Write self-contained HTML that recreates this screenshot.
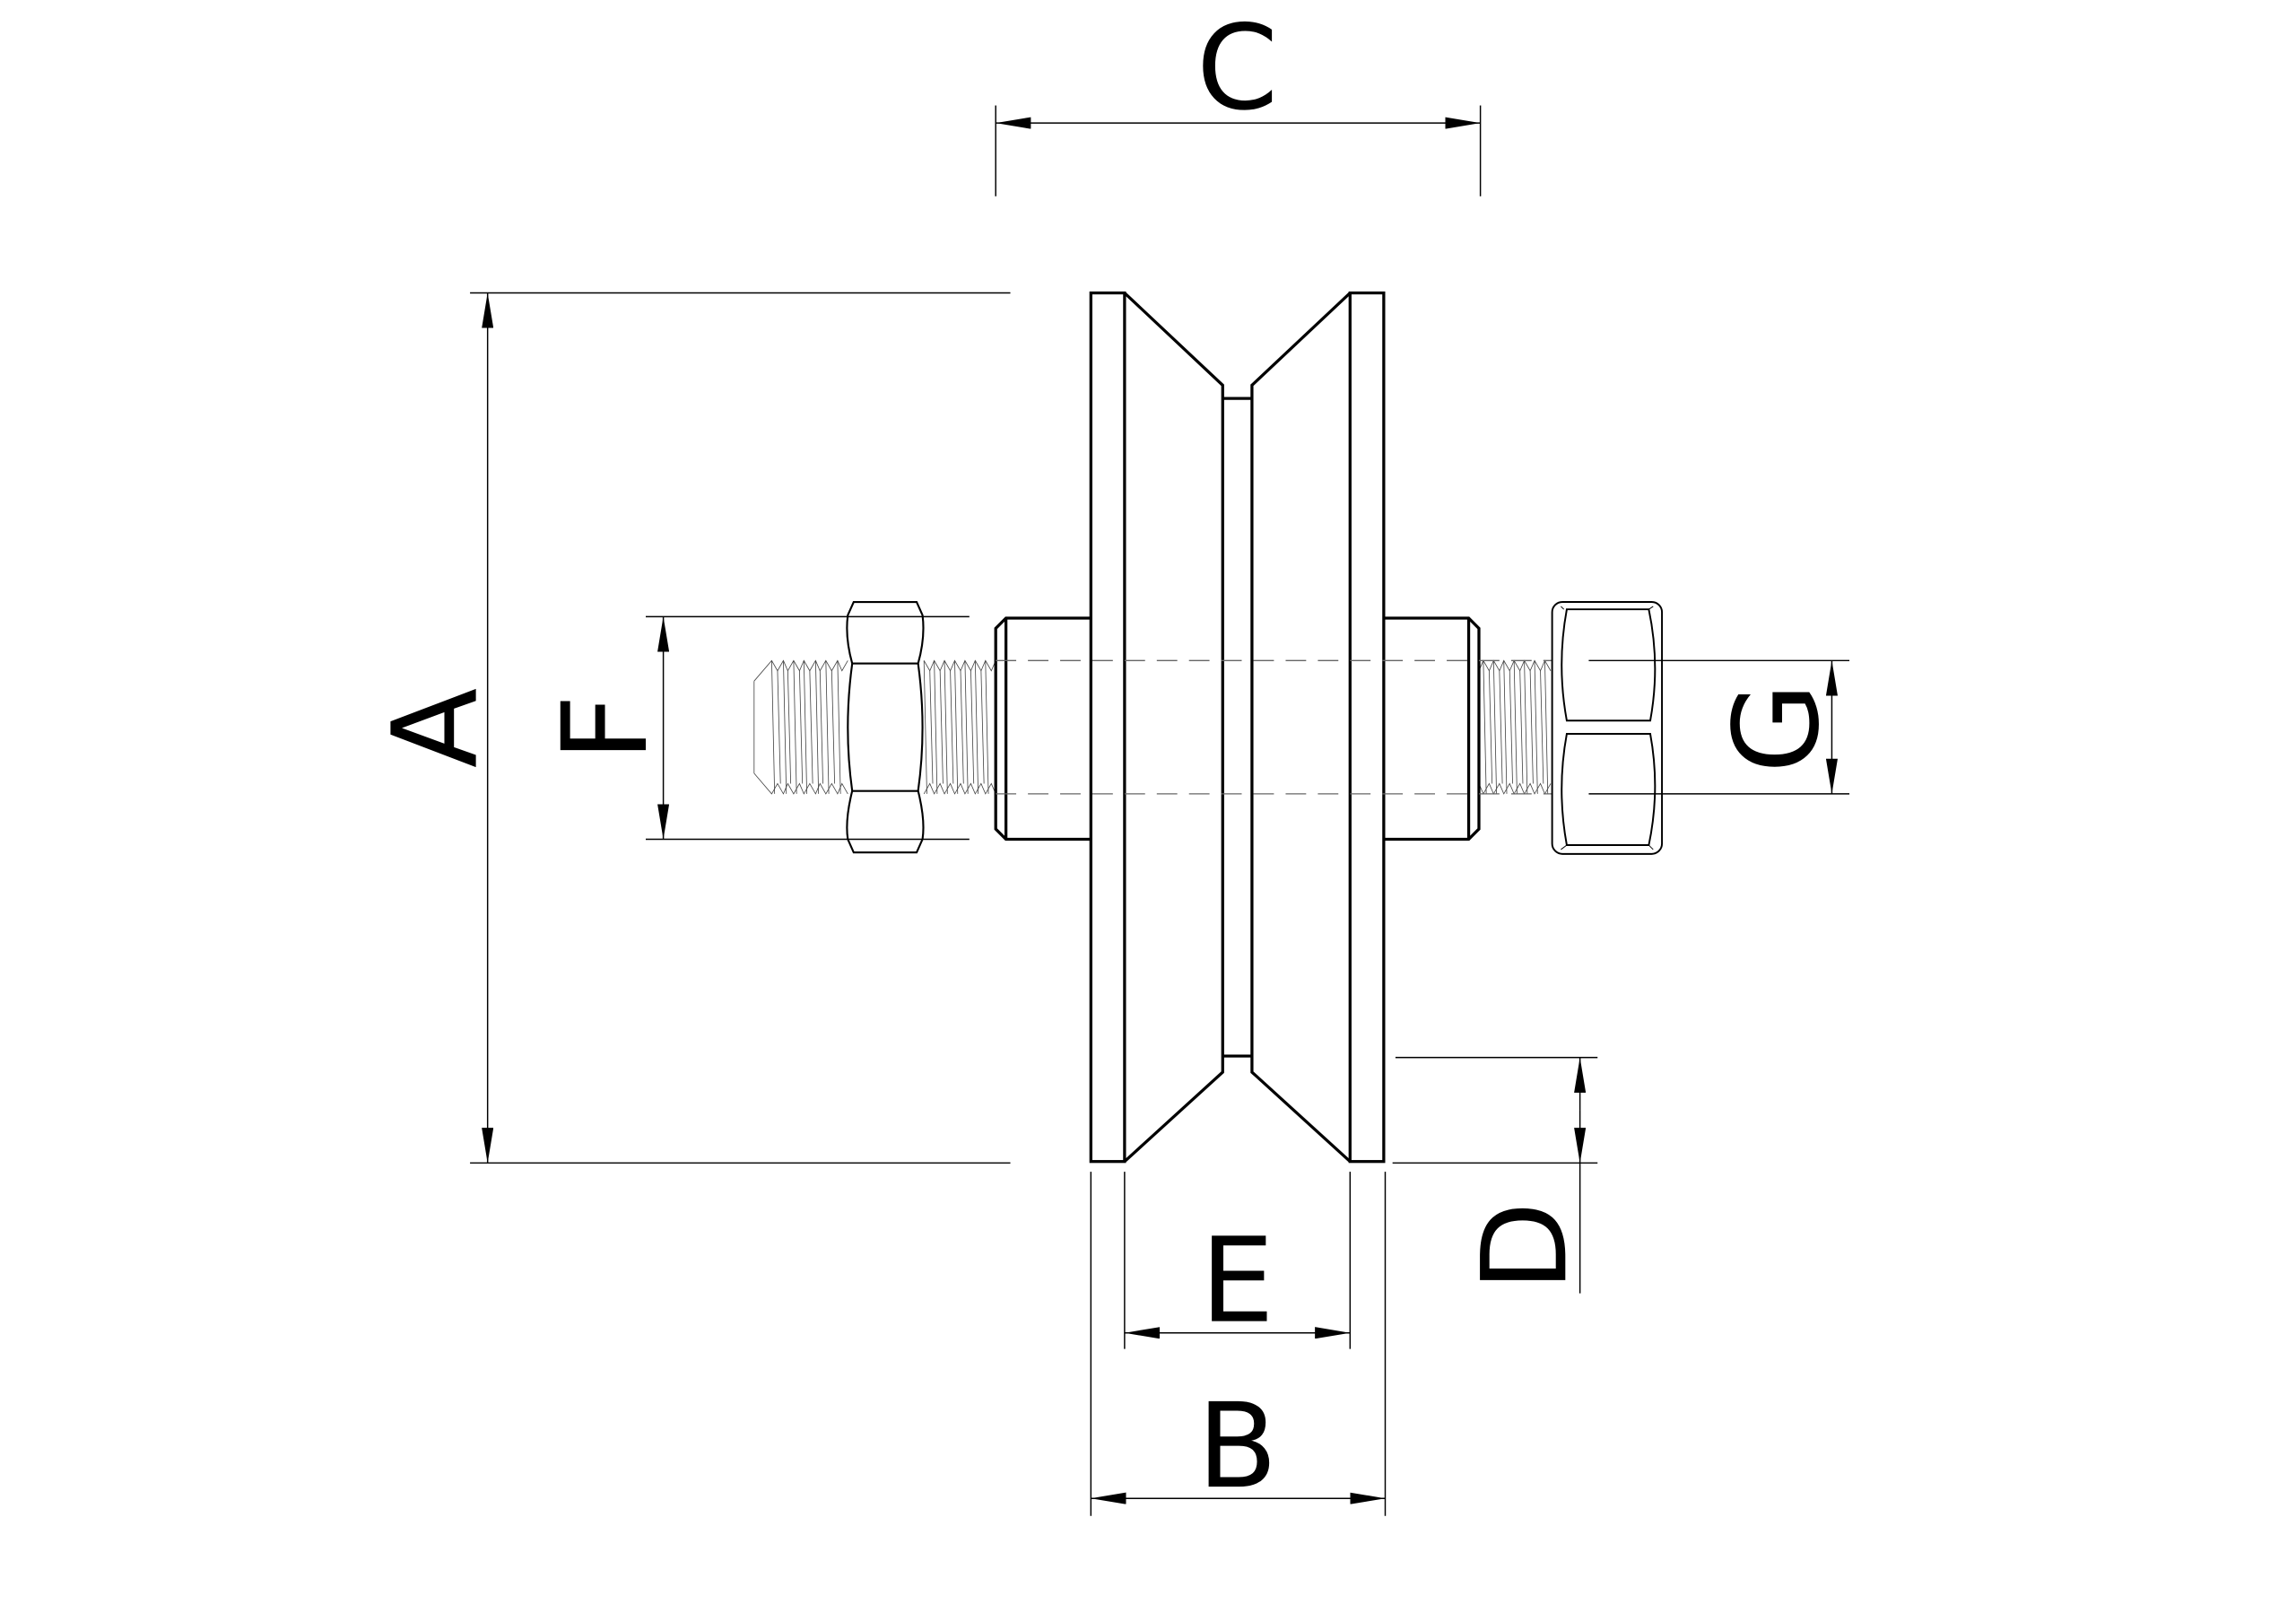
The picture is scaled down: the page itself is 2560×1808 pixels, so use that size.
<!DOCTYPE html>
<html><head><meta charset="utf-8"><style>
html,body{margin:0;padding:0;background:#fff}
svg{display:block}
text{font-family:"DejaVu Sans","Liberation Sans",sans-serif;font-size:80px;fill:#000}
</style></head><body>
<svg width="2560" height="1808" viewBox="0 0 1568 1107.4" xmlns="http://www.w3.org/2000/svg">
<defs>
<marker id="ar" viewBox="0 0 24 8" refX="24" refY="4" markerWidth="24" markerHeight="8" markerUnits="userSpaceOnUse" orient="auto-start-reverse">
<path d="M0,0 L24,4 L0,8 Z" fill="#000"/></marker>
</defs>
<g fill="none" stroke="#000" stroke-width="0.9">
<line x1="680" y1="72" x2="680" y2="134"/><line x1="1011" y1="72" x2="1011" y2="134"/>
<line x1="680" y1="84" x2="1011" y2="84" marker-start="url(#ar)" marker-end="url(#ar)"/>
<line x1="321" y1="200" x2="690" y2="200"/><line x1="321" y1="794" x2="690" y2="794"/>
<line x1="333" y1="200" x2="333" y2="794" marker-start="url(#ar)" marker-end="url(#ar)"/>
<line x1="441" y1="421" x2="662" y2="421"/><line x1="441" y1="573" x2="662" y2="573"/>
<line x1="453" y1="421" x2="453" y2="573" marker-start="url(#ar)" marker-end="url(#ar)"/>
<line x1="1085" y1="451" x2="1263" y2="451"/><line x1="1085" y1="542" x2="1263" y2="542"/>
<line x1="1251" y1="451" x2="1251" y2="542" marker-start="url(#ar)" marker-end="url(#ar)"/>
<line x1="953" y1="722" x2="1091" y2="722"/><line x1="951" y1="794" x2="1091" y2="794"/>
<line x1="1079" y1="722" x2="1079" y2="758" marker-start="url(#ar)"/>
<line x1="1079" y1="758" x2="1079" y2="794" marker-end="url(#ar)"/>
<line x1="1079" y1="794" x2="1079" y2="883"/>
<line x1="768" y1="800" x2="768" y2="921"/><line x1="922" y1="800" x2="922" y2="921"/>
<line x1="768" y1="910" x2="922" y2="910" marker-start="url(#ar)" marker-end="url(#ar)"/>
<line x1="745" y1="800" x2="745" y2="1035"/><line x1="946" y1="800" x2="946" y2="1035"/>
<line x1="745" y1="1023" x2="946" y2="1023" marker-start="url(#ar)" marker-end="url(#ar)"/>
</g>
<g fill="none" stroke="#444" stroke-width="0.5">
<path d="M515,465 L527,451 L531,458 L535,451 L538,458 L542,451 L546,458 L549,451 L553,458 L557,451 L560,458 L564,451 L568,458 L572,451 L575,458 L579,451"/>
<path d="M515,528 L527,542 L531,535 L535,542 L538,535 L542,542 L546,535 L549,542 L553,535 L557,542 L560,535 L564,542 L568,535 L572,542 L575,535 L579,542"/>
<line x1="515" y1="465" x2="515" y2="528"/>
<path d="M527,451 L529,542 M535,451 L537,542 M542,451 L544,542 M549,451 L551,542 M557,451 L559,542 M564,451 L566,542 M572,451 L574,542 M531,458 L533,535 M538,458 L540,535 M546,458 L548,535 M553,458 L555,535 M560,458 L562,535 M568,458 L570,535"/>
<path d="M631,451 L635,458 L638,451 L642,458 L645,451 L649,458 L652,451 L656,458 L659,451 L663,458 L666,451 L670,458 L673,451 L677,458 L680,451"/>
<path d="M631,542 L635,535 L638,542 L642,535 L645,542 L649,535 L652,542 L656,535 L659,542 L663,535 L666,542 L670,535 L673,542 L677,535 L680,542"/>
<path d="M631,451 L633,542 M638,451 L640,542 M645,451 L647,542 M652,451 L654,542 M659,451 L661,542 M666,451 L668,542 M673,451 L675,542 M635,458 L637,535 M642,458 L644,535 M649,458 L651,535 M656,458 L658,535 M663,458 L665,535 M670,458 L672,535"/>
<path d="M1010,458 L1013,451 L1017,458 L1020,451 L1024,458 L1027,451 L1031,458 L1034,451 L1038,458 L1041,451 L1045,458 L1048,451 L1052,458 L1055,451 L1059,458"/>
<path d="M1010,535 L1013,542 L1017,535 L1020,542 L1024,535 L1027,542 L1031,535 L1034,542 L1038,535 L1041,542 L1045,535 L1048,542 L1052,535 L1055,542 L1059,535"/>
<path d="M1013,451 L1015,542 M1020,451 L1022,542 M1027,451 L1029,542 M1034,451 L1036,542 M1041,451 L1043,542 M1048,451 L1050,542 M1055,451 L1057,542 M1017,458 L1019,535 M1024,458 L1026,535 M1031,458 L1033,535 M1038,458 L1040,535 M1045,458 L1047,535 M1052,458 L1054,535"/>
</g>
<g fill="none" stroke="#000" stroke-width="2" stroke-linejoin="miter">
<rect x="745" y="200" width="23" height="593"/>
<rect x="922" y="200" width="23" height="593"/>
<path d="M768,200 L835,263 L835,732 L768,793"/>
<path d="M922,200 L855,263 L855,732 L922,793"/>
<line x1="835" y1="272" x2="855" y2="272"/><line x1="835" y1="721" x2="855" y2="721"/>
<path d="M745,422 L687,422 L680,429 L680,566 L687,573 L745,573"/>
<line x1="687" y1="422" x2="687" y2="573"/>
<path d="M945,422 L1003,422 L1010,429 L1010,566 L1003,573 L945,573"/>
<line x1="1003" y1="422" x2="1003" y2="573"/>
</g>
<g stroke="#666" stroke-width="0.8" stroke-dasharray="14,8">
<line x1="680" y1="451" x2="1060" y2="451"/><line x1="680" y1="542" x2="1060" y2="542"/>
</g>
<g fill="none" stroke="#000" stroke-width="1.3">
<path d="M583,411 L626,411 L630,420 Q632,435 627,453 Q633,497 627,540 Q632,560 630,573 L626,582 L583,582 L579,573 Q577,560 582,540 Q576,497 582,453 Q577,435 579,420 Z"/>
<line x1="582" y1="453" x2="627" y2="453"/><line x1="582" y1="540" x2="627" y2="540"/>
</g>
<g fill="none" stroke="#000" stroke-width="1.2">
<rect x="1060" y="411" width="75" height="172" rx="7" ry="7"/>
<path d="M1070,416 L1126,416 Q1134,454 1127,492 L1070,492 Q1063,454 1070,416 Z"/>
<path d="M1070,501 L1127,501 Q1134,539 1126,577 L1070,577 Q1063,539 1070,501 Z"/>
<path d="M1066,414 L1068,416 M1129,414 L1126,416 M1066,580 L1070,577 M1129,580 L1126,577" stroke-width="0.6"/>
</g>
<text x="845" y="74" text-anchor="middle">C</text>
<text x="845" y="902" text-anchor="middle">E</text>
<text x="845" y="1015" text-anchor="middle">B</text>
<text transform="translate(325,497) rotate(-90)" text-anchor="middle">A</text>
<text transform="translate(441,497) rotate(-90)" text-anchor="middle">F</text>
<text transform="translate(1241,497) rotate(-90)" text-anchor="middle">G</text>
<text transform="translate(1069,851) rotate(-90)" text-anchor="middle">D</text>
</svg>
</body></html>
